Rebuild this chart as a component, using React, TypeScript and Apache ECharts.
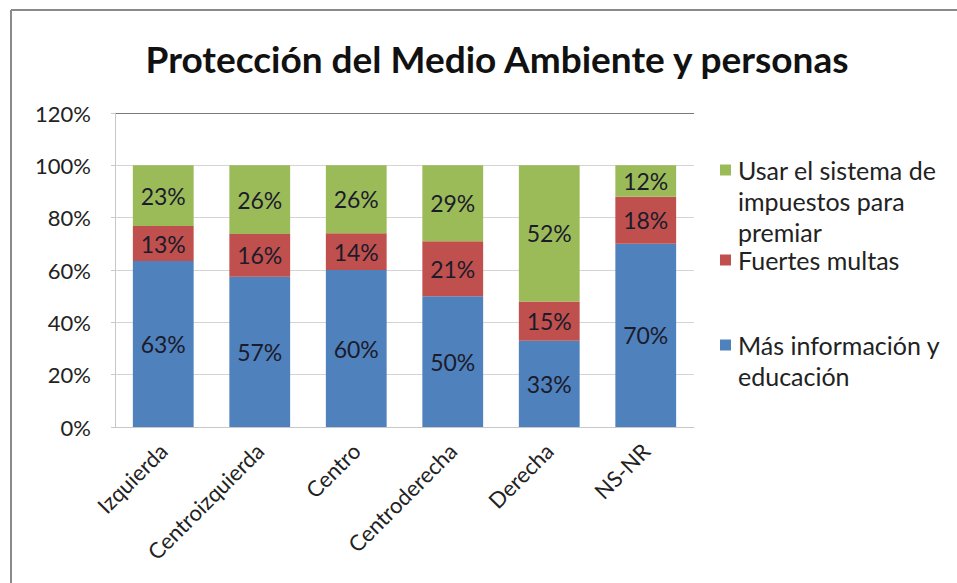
import React, { useEffect, useRef } from "react";
import * as echarts from "echarts";

const categories = ["Izquierda", "Centroizquierda", "Centro", "Centroderecha", "Derecha", "NS-NR"];
const seriesNames = ["Más información y educación", "Fuertes multas", "Usar el sistema de impuestos para premiar"];
const infoValues = [63.4, 57.4, 60, 50, 33, 70];
const multasValues = [13.4, 16.4, 14, 21, 15, 18];
const impuestosValues = [23.2, 26.2, 26, 29, 52, 12];
const yTicks = [0, 20, 40, 60, 80, 100, 120];
const colors = ["#4F81BD", "#C0504D", "#9BBB59"];
const legendLines = [
  ["Usar el sistema de", "impuestos para", "premiar"],
  ["Fuertes multas"],
  ["Más información y", "educación"],
];

const FONT = "Lato, 'Open Sans', sans-serif";

export default function App() {
  const ref = useRef<HTMLDivElement>(null);
  useEffect(() => {
    if (!ref.current) return;
    const chart = echarts.init(ref.current, null, { renderer: "svg" });
    const values = [infoValues, multasValues, impuestosValues];
    const labelStyle = {
      show: true,
      position: "inside" as const,
      fontFamily: FONT,
      fontSize: 23,
      color: "#1b1b2b",
      formatter: (p: any) => Math.round(p.value) + "%",
    };
    const legendColorOrder = [colors[2], colors[1], colors[0]];
    const legendIconY = [170, 260, 345];
    const graphic: any[] = [
      { type: "line", shape: { x1: 11, y1: 10, x2: 957, y2: 10 }, style: { stroke: "#8a8a8a", lineWidth: 2 } },
      { type: "line", shape: { x1: 11, y1: 10, x2: 11, y2: 583 }, style: { stroke: "#8a8a8a", lineWidth: 2 } },
    ];
    legendLines.forEach((lines, i) => {
      graphic.push({
        type: "rect",
        shape: { x: 720, y: legendIconY[i] - 5.5, width: 11, height: 11 },
        style: { fill: legendColorOrder[i] },
      });
      lines.forEach((t, j) => {
        graphic.push({
          type: "text",
          x: 738,
          y: legendIconY[i] + j * 31,
          style: {
            text: t,
            fontFamily: FONT,
            fontSize: 25,
            fill: "#222",
            verticalAlign: "middle",
            align: "left",
          },
        });
      });
    });
    chart.setOption({
      animation: false,
      backgroundColor: "#ffffff",
      title: {
        text: "Protección del Medio Ambiente y personas",
        left: 492,
        textAlign: "center",
        top: 35,
        textStyle: { fontFamily: FONT, fontSize: 37, fontWeight: "bold", color: "#111" },
      },
      grid: { left: 115, right: 263, top: 113, bottom: 156 },
      xAxis: {
        type: "category",
        data: categories,
        axisLine: { show: true, lineStyle: { color: "#c8c8c8" } },
        axisTick: { show: false },
        axisLabel: {
          rotate: 45,
          interval: 0,
          margin: 20,
          fontFamily: FONT,
          fontSize: 22,
          color: "#222",
        },
      },
      yAxis: {
        type: "value",
        min: 0,
        max: 120,
        interval: 20,
        axisLine: { show: true, lineStyle: { color: "#c8c8c8" } },
        axisTick: { show: true, length: 4, lineStyle: { color: "#c8c8c8" } },
        axisLabel: {
          margin: 24,
          fontFamily: FONT,
          fontSize: 22,
          color: "#222",
          formatter: (v: number) => (yTicks.includes(v) ? v + "%" : ""),
        },
        splitLine: {
          show: true,
          lineStyle: { color: ["#d4d4d4", "#d4d4d4", "#d4d4d4", "#d4d4d4", "#d4d4d4", "#d4d4d4", "#7a7a7a"], width: 1 },
        },
      },
      series: seriesNames.map((name, i) => ({
        name,
        type: "bar",
        stack: "total",
        barWidth: "63%",
        data: values[i],
        itemStyle: { color: colors[i] },
        label: labelStyle,
      })),
      graphic,
    });
    return () => chart.dispose();
  }, []);
  return (
    <div
      ref={ref}
      style={{ position: "absolute", left: 0, top: 0, width: 957, height: 583, background: "#fff" }}
    />
  );
}
